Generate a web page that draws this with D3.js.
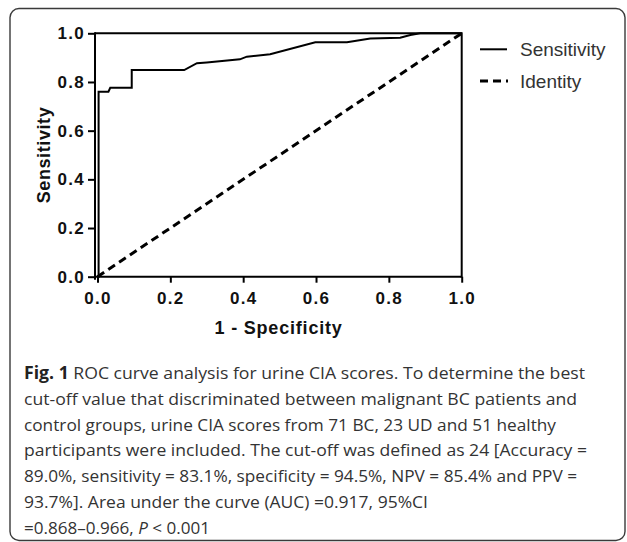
<!DOCTYPE html>
<html>
<head>
<meta charset="utf-8">
<script src="https://cdn.jsdelivr.net/npm/d3@7"></script>
<style>
  html, body { margin: 0; padding: 0; background: #fff; }
  svg { display: block; }
</style>
</head>
<body>
<svg id="chart" width="627" height="542"></svg>
<script>
// ---- data ----
const fpr = [0, 0.003, 0.003, 0.03, 0.035, 0.094, 0.094, 0.238, 0.273, 0.30, 0.391, 0.41, 0.474, 0.598, 0.685, 0.749, 0.831, 0.859, 0.886, 1.0];
const tpr = [0, 0, 0.760, 0.760, 0.776, 0.776, 0.849, 0.849, 0.877, 0.880, 0.893, 0.904, 0.914, 0.963, 0.963, 0.979, 0.982, 0.993, 1.0, 1.0];
const identityX = [0, 1];
const identityY = [0, 1];
const xTicks = [0, 0.2, 0.4, 0.6, 0.8, 1.0];
const yTicks = [0, 0.2, 0.4, 0.6, 0.8, 1.0];
const seriesNames = ["Sensitivity", "Identity"];
const xTitle = "1 - Specificity";
const yTitle = "Sensitivity";
const captionLines = [
  [["b", "Fig. 1"], ["r", " ROC curve analysis for urine CIA scores. To determine the best"]],
  [["r", "cut-off value that discriminated between malignant BC patients and"]],
  [["r", "control groups, urine CIA scores from 71 BC, 23 UD and 51 healthy"]],
  [["r", "participants were included. The cut-off was defined as 24 [Accuracy ="]],
  [["r", "89.0%, sensitivity = 83.1%, specificity = 94.5%, NPV = 85.4% and PPV ="]],
  [["r", "93.7%]. Area under the curve (AUC) =0.917, 95%CI"]],
  [["r", "=0.868\u20130.966, "], ["i", "P"], ["r", " < 0.001"]]
];
const captionWidths = [561, 553, 532, 563, 553, 404, 186];

// ---- layout ----
const svg = d3.select("#chart");
const x = d3.scaleLinear().domain([0, 1]).range([97.5, 461.7]);
const y = d3.scaleLinear().domain([0, 1]).range([276.7, 33.3]);
const axisX0 = x(0) - 2.5;

// outer rounded border
svg.append("rect")
  .attr("x", 10).attr("y", 8.5).attr("width", 615).attr("height", 532)
  .attr("rx", 9).attr("ry", 9)
  .attr("fill", "none").attr("stroke", "#3a3a3a").attr("stroke-width", 1.4);

const g = svg.append("g");

// frame / axes lines
const frameStroke = "#000";
g.append("line").attr("x1", axisX0).attr("x2", x(1)).attr("y1", y(0)).attr("y2", y(0))
  .attr("stroke", frameStroke).attr("stroke-width", 2);
g.append("line").attr("x1", axisX0).attr("x2", x(1)).attr("y1", y(1)).attr("y2", y(1))
  .attr("stroke", frameStroke).attr("stroke-width", 2);
g.append("line").attr("x1", axisX0).attr("x2", axisX0).attr("y1", y(1) - 1).attr("y2", y(0) + 3)
  .attr("stroke", frameStroke).attr("stroke-width", 2);
g.append("line").attr("x1", x(1)).attr("x2", x(1)).attr("y1", y(1) - 1).attr("y2", y(0) + 1)
  .attr("stroke", frameStroke).attr("stroke-width", 2);

// axes via d3
const xAxis = d3.axisBottom(x).tickValues(xTicks).tickFormat(d3.format(".1f")).tickSize(6).tickPadding(9);
const yAxis = d3.axisLeft(y).tickValues(yTicks).tickFormat(d3.format(".1f")).tickSize(7).tickPadding(3);

const gx = g.append("g").attr("transform", `translate(0,${y(0)})`).call(xAxis);
const gy = g.append("g").attr("transform", `translate(${axisX0},0)`).call(yAxis);
[gx, gy].forEach(a => {
  a.select(".domain").remove();
  a.selectAll(".tick line").attr("stroke", "#000").attr("stroke-width", 2);
  a.selectAll(".tick text")
    .attr("fill", "#111")
    .style("font-family", "'Liberation Sans', Arial, sans-serif")
    .style("font-weight", "bold")
    .style("font-size", "17px")
    .style("letter-spacing", "1.3px");
});

// identity dashed line
const line = d3.line().x(d => x(d[0])).y(d => y(d[1]));
g.append("path")
  .datum(identityX.map((v, i) => [v, identityY[i]]))
  .attr("d", line)
  .attr("fill", "none").attr("stroke", "#000").attr("stroke-width", 3)
  .attr("stroke-dasharray", "8,5");

// ROC curve
g.append("path")
  .datum(fpr.map((v, i) => [v, tpr[i]]))
  .attr("d", line)
  .attr("fill", "none").attr("stroke", "#000").attr("stroke-width", 2)
  .attr("stroke-linejoin", "miter");

// axis titles
g.append("text")
  .attr("x", (x(0) + x(1)) / 2 - 1).attr("y", 333.5)
  .attr("text-anchor", "middle")
  .style("font-family", "'Liberation Sans', Arial, sans-serif")
  .style("font-weight", "bold").style("font-size", "18px")
  .style("letter-spacing", "0.8px")
  .attr("fill", "#111")
  .text(xTitle);
g.append("text")
  .attr("transform", `translate(50,${(y(0) + y(1)) / 2}) rotate(-90)`)
  .attr("text-anchor", "middle")
  .style("font-family", "'Liberation Sans', Arial, sans-serif")
  .style("font-weight", "bold").style("font-size", "18px")
  .style("letter-spacing", "0.6px")
  .attr("fill", "#111")
  .text(yTitle);

// legend
const legend = g.append("g");
const legY = [49.3, 81];
legend.append("line").attr("x1", 480).attr("x2", 507).attr("y1", legY[0]).attr("y2", legY[0])
  .attr("stroke", "#000").attr("stroke-width", 2);
legend.append("line").attr("x1", 480).attr("x2", 508).attr("y1", legY[1]).attr("y2", legY[1])
  .attr("stroke", "#000").attr("stroke-width", 3).attr("stroke-dasharray", "8,5");
seriesNames.forEach((n, i) => {
  legend.append("text")
    .attr("x", 520).attr("y", legY[i] + 7)
    .style("font-family", "'Liberation Sans', Arial, sans-serif")
    .style("font-size", "19px")
    .attr("fill", "#333")
    .text(n);
});

// caption
const cap = svg.append("g");
captionLines.forEach((parts, i) => {
  const t = cap.append("text")
    .attr("x", 24).attr("y", 379 + i * 25.8)
    .attr("textLength", captionWidths[i])
    .attr("lengthAdjust", "spacingAndGlyphs")
    .style("font-family", "'Open Sans', 'Noto Sans', sans-serif")
    .style("font-size", "17px")
    .attr("fill", "#333");
  parts.forEach(([k, s]) => {
    const ts = t.append("tspan").text(s);
    if (k === "b") ts.style("font-weight", "bold").attr("fill", "#222");
    if (k === "i") ts.style("font-style", "italic");
  });
});
</script>
</body>
</html>
